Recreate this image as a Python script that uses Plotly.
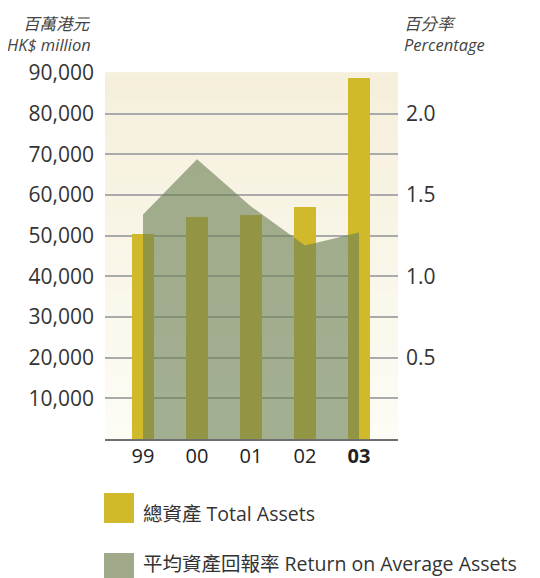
import plotly.graph_objects as go

# ---- data ----
years = ["99", "00", "01", "02", "03"]
year_labels = ["99", "00", "01", "02", "<b>03</b>"]
total_assets = [50400, 54600, 55100, 57000, 88800]          # HK$ million
roaa = [1.38, 1.72, 1.43, 1.19, 1.27]                        # percentage
left_ticks = [10000, 20000, 30000, 40000, 50000, 60000, 70000, 80000, 90000]
left_tick_text = ["10,000", "20,000", "30,000", "40,000", "50,000",
                  "60,000", "70,000", "80,000", "90,000"]
right_ticks = [0.5, 1.0, 1.5, 2.0]
right_tick_text = ["0.5", "1.0", "1.5", "2.0"]

# ---- layout geometry (pixels, page coords; page body has an 8px margin) ----
OFF = 8
W, H = 540 - OFF, 578 - OFF
L, R, T, B = 105 - OFF, 398 - OFF, 73 - OFF, 439 - OFF


def px(x):
    return (x - OFF - L) / (R - L)


def py(y):
    return (B - (y - OFF)) / (B - T)


FONT = "Open Sans, Noto Sans CJK TC, sans-serif"
YELLOW = "#d0b92b"
AREA = "rgba(107,128,84,0.62)"
AREA_SWATCH = "#a0a98a"
TXT = "#333333"

fig = go.Figure()
fig.add_trace(go.Bar(
    x=years, y=total_assets, width=0.39, marker=dict(color=YELLOW, line=dict(width=0)),
    name="總資產 Total Assets", yaxis="y", showlegend=False,
))
fig.add_trace(go.Scatter(
    x=years, y=roaa, yaxis="y2", mode="lines", line=dict(width=0),
    fill="tozeroy", fillcolor=AREA, name="平均資產回報率 Return on Average Assets",
    showlegend=False,
))

# background gradient stripes (plot area)
shapes = []
top_c = (245, 239, 219)
bot_c = (253, 252, 245)
n = 40
for i in range(n):
    f = i / (n - 1)
    c = tuple(round(top_c[k] + (bot_c[k] - top_c[k]) * f) for k in range(3))
    y1 = 1 - i / n
    y0 = 1 - (i + 1) / n
    shapes.append(dict(type="rect", xref="paper", yref="paper", x0=0, x1=1,
                       y0=y0, y1=y1 + 0.002, fillcolor="rgb(%d,%d,%d)" % c,
                       line=dict(width=0), layer="below"))

# legend swatches
shapes.append(dict(type="rect", xref="paper", yref="paper", x0=px(104), x1=px(134),
                   y0=py(523), y1=py(493), fillcolor=YELLOW, line=dict(width=0)))
shapes.append(dict(type="rect", xref="paper", yref="paper", x0=px(104), x1=px(134),
                   y0=py(583), y1=py(553), fillcolor=AREA_SWATCH, line=dict(width=0)))

annotations = [
    dict(text="<i>百萬港元</i>", x=px(93), y=py(23), xanchor="right", yanchor="middle"),
    dict(text="<i>HK$ million</i>", x=px(93), y=py(44), xanchor="right", yanchor="middle"),
    dict(text="<i>百分率</i>", x=px(402), y=py(23), xanchor="left", yanchor="middle"),
    dict(text="<i>Percentage</i>", x=px(402), y=py(44), xanchor="left", yanchor="middle"),
]
for a in annotations:
    a.update(xref="paper", yref="paper", showarrow=False,
             font=dict(family=FONT, size=16.5, color="#444444"))
annotations += [
    dict(text="總資產 Total Assets", x=px(142), y=py(513)),
    dict(text="平均資產回報率 Return on Average Assets", x=px(142), y=py(563)),
]
for a in annotations[4:]:
    a.update(xref="paper", yref="paper", showarrow=False, xanchor="left", yanchor="middle",
             borderpad=0, font=dict(family=FONT, size=19.5, color=TXT))

fig.update_layout(
    width=W, height=H,
    margin=dict(l=L, r=W - R, t=T, b=H - B, pad=0, autoexpand=False),
    paper_bgcolor="white", plot_bgcolor="rgba(0,0,0,0)",
    font=dict(family=FONT, color=TXT),
    showlegend=False,
    bargap=0,
    xaxis=dict(type="category", range=[-0.704, 4.722], tickvals=years, ticktext=year_labels,
               showgrid=False, showline=True, linecolor="#6f6f6f", linewidth=2,
               ticks="", tickfont=dict(size=20, color="#222222", family=FONT),
               ticklabelstandoff=-2, zeroline=False, automargin=False),
    yaxis=dict(range=[0, 90000], tickvals=left_ticks, ticktext=left_tick_text,
               showgrid=True, gridcolor="#aaaaaa", gridwidth=1.5, zeroline=False,
               showline=False, ticks="", tickfont=dict(size=21, color=TXT, family=FONT),
               ticklabelstandoff=10, automargin=False),
    yaxis2=dict(range=[0, 2.25], overlaying="y", side="right", tickvals=right_ticks,
                ticktext=right_tick_text, showgrid=False, zeroline=False, showline=False,
                ticks="", tickfont=dict(size=21, color=TXT, family=FONT),
                ticklabelstandoff=7, automargin=False),
    shapes=shapes,
    annotations=annotations,
)

fig.write_html("out.html")
